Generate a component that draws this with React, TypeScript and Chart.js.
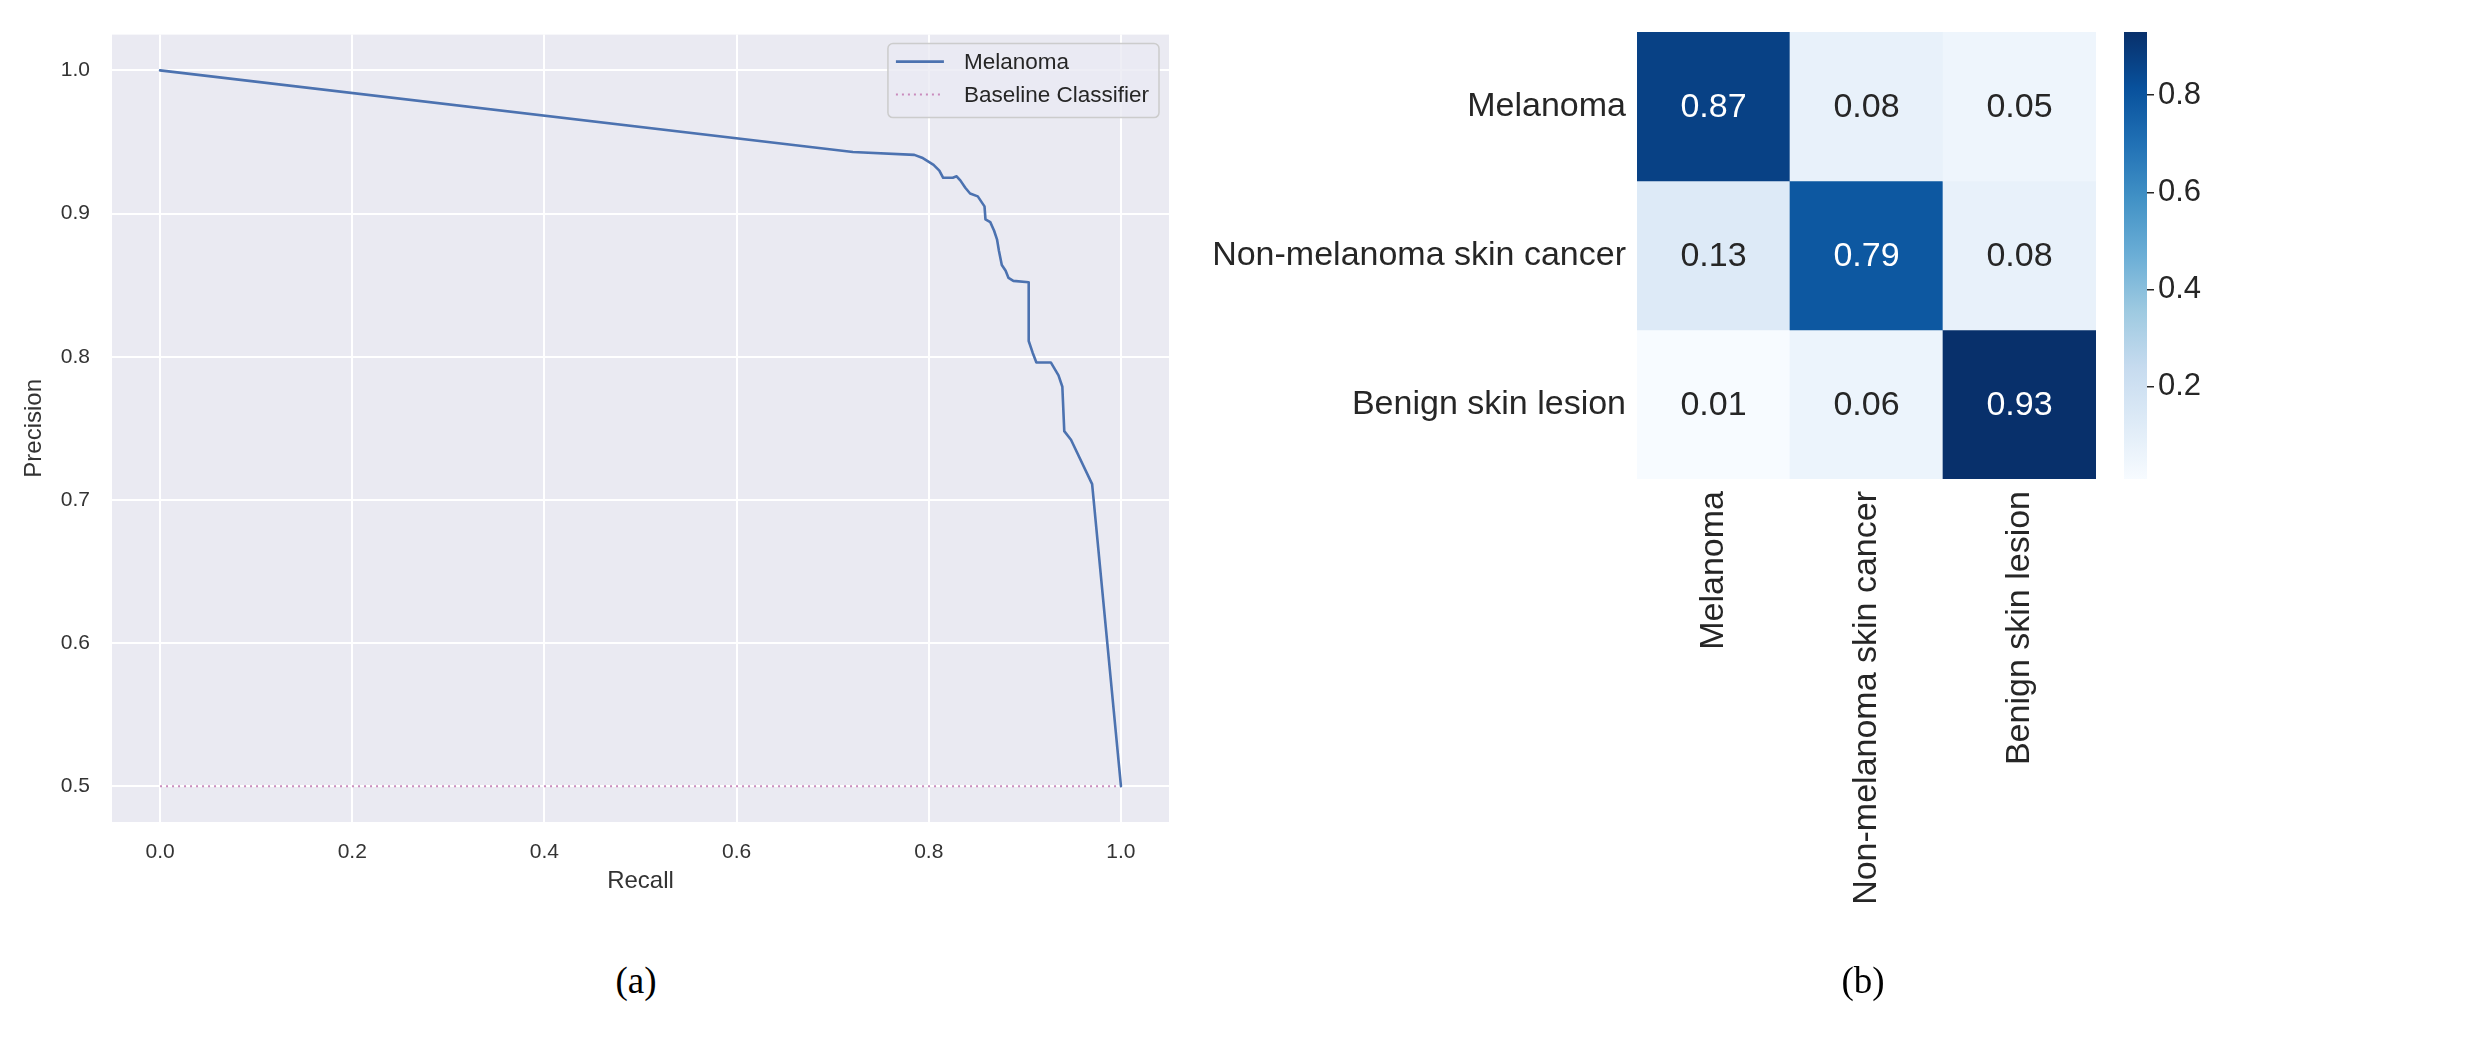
import React, { useEffect, useRef } from "react";
import { Chart, registerables } from "chart.js";

Chart.register(...registerables);

// ---------- (a) Precision-Recall curve data ----------
const recall = [
  0, 0.721, 0.785, 0.793, 0.805, 0.811, 0.815, 0.825, 0.829, 0.833, 0.838, 0.843,
  0.851, 0.855, 0.858, 0.859, 0.864, 0.868, 0.871, 0.873, 0.876, 0.88, 0.883, 0.888,
  0.904, 0.904, 0.908, 0.912, 0.927, 0.935, 0.939, 0.941, 0.948, 0.97, 1.0,
];
const precision = [
  1.0, 0.943, 0.941, 0.939, 0.934, 0.93, 0.925, 0.925, 0.926, 0.923, 0.918, 0.914,
  0.912, 0.908, 0.905, 0.896, 0.894, 0.888, 0.882, 0.874, 0.864, 0.86, 0.855, 0.853,
  0.852, 0.811, 0.803, 0.796, 0.796, 0.787, 0.779, 0.748, 0.742, 0.711, 0.5,
];
const baselineRecall = [0, 1];
const baselinePrecision = [0.5, 0.5];
const seriesLabels = ["Melanoma", "Baseline Classifier"];
const prXTicks = [0, 0.2, 0.4, 0.6, 0.8, 1.0];
const prYTicks = [0.5, 0.6, 0.7, 0.8, 0.9, 1.0];

// ---------- (b) Confusion matrix data ----------
const classLabels = ["Melanoma", "Non-melanoma skin cancer", "Benign skin lesion"];
const rowMelanoma = [0.87, 0.08, 0.05];
const rowNonMelanoma = [0.13, 0.79, 0.08];
const rowBenign = [0.01, 0.06, 0.93];
const confusion = [rowMelanoma, rowNonMelanoma, rowBenign];
const colorbarTicks = [0.2, 0.4, 0.6, 0.8];

const FONT = '"Liberation Sans", Arial, Helvetica, sans-serif';
const TEXT = "#262626";

// matplotlib "Blues" colormap anchors
const BLUES = [
  [247, 251, 255], [222, 235, 247], [198, 219, 239], [158, 202, 225], [107, 174, 214],
  [66, 146, 198], [33, 113, 181], [8, 81, 156], [8, 48, 107],
];
const flat = confusion.flat();
const vmin = Math.min(...flat);
const vmax = Math.max(...flat);

function bluesRGB(t: number): number[] {
  const tt = Math.max(0, Math.min(1, t));
  const p = tt * (BLUES.length - 1);
  const i = Math.min(BLUES.length - 2, Math.floor(p));
  const f = p - i;
  return BLUES[i].map((c, k) => c + (BLUES[i + 1][k] - c) * f);
}
function rgbStr(c: number[]) {
  return `rgb(${Math.round(c[0])},${Math.round(c[1])},${Math.round(c[2])})`;
}
function cellRGB(v: number) {
  return bluesRGB((v - vmin) / (vmax - vmin));
}
function luminance(c: number[]) {
  const lin = c.map((x) => {
    const s = x / 255;
    return s <= 0.03928 ? s / 12.92 : Math.pow((s + 0.055) / 1.055, 2.4);
  });
  return 0.2126 * lin[0] + 0.7152 * lin[1] + 0.0722 * lin[2];
}

const bgPlugin = {
  id: "axesBg",
  beforeDraw(chart: any) {
    const { ctx, chartArea } = chart;
    ctx.save();
    ctx.fillStyle = "#eaeaf2";
    ctx.fillRect(chartArea.left, chartArea.top, chartArea.right - chartArea.left, chartArea.bottom - chartArea.top);
    ctx.restore();
  },
};

const innerLegend = {
  id: "innerLegend",
  afterDraw(chart: any) {
    const { ctx, chartArea } = chart;
    const ds = chart.data.datasets;
    ctx.save();
    ctx.font = `22.5px ${FONT}`;
    const textW = Math.max(...ds.map((d: any) => ctx.measureText(d.label).width));
    const padL = 8, lineLen = 48, gap = 20, padR = 10, padT = 18, rowH = 33, padB = 23;
    const w = padL + lineLen + gap + textW + padR;
    const h = padT + rowH * (ds.length - 1) + padB;
    const right = chartArea.right - 10;
    const top = chartArea.top + 9;
    const left = right - w;
    ctx.beginPath();
    (ctx as any).roundRect(left, top, w, h, 5);
    ctx.fillStyle = "rgba(234,234,242,0.8)";
    ctx.fill();
    ctx.lineWidth = 1.5;
    ctx.strokeStyle = "#cccccc";
    ctx.stroke();
    ds.forEach((d: any, i: number) => {
      const y = top + padT + rowH * i;
      ctx.beginPath();
      ctx.setLineDash(d.borderDash || []);
      ctx.lineWidth = d.borderWidth;
      ctx.strokeStyle = d.borderColor;
      ctx.moveTo(left + padL, y);
      ctx.lineTo(left + padL + lineLen, y);
      ctx.stroke();
      ctx.setLineDash([]);
      ctx.fillStyle = TEXT;
      ctx.textBaseline = "middle";
      ctx.textAlign = "left";
      ctx.fillText(d.label, left + padL + lineLen + gap, y + 1);
    });
    ctx.restore();
  },
};

const annotatePlugin = {
  id: "annotate",
  afterDatasetsDraw(chart: any) {
    const { ctx } = chart;
    ctx.save();
    ctx.font = `34px ${FONT}`;
    ctx.textAlign = "center";
    ctx.textBaseline = "middle";
    chart.data.datasets.forEach((_: any, r: number) => {
      const meta = chart.getDatasetMeta(r);
      meta.data.forEach((bar: any, c: number) => {
        const v = confusion[r][c];
        const { x, y, base } = bar.getProps(["x", "y", "base"], true);
        ctx.fillStyle = luminance(cellRGB(v)) > 0.408 ? TEXT : "#ffffff";
        ctx.fillText(v.toFixed(2), x, (y + base) / 2 + 1);
      });
    });
    ctx.restore();
  },
};

export default function App() {
  const prRef = useRef<HTMLCanvasElement>(null);
  const hmRef = useRef<HTMLCanvasElement>(null);
  const cbRef = useRef<HTMLCanvasElement>(null);

  useEffect(() => {
    Chart.defaults.font.family = FONT;
    Chart.defaults.color = TEXT;

    const pr = new Chart(prRef.current as HTMLCanvasElement, {
      type: "scatter",
      data: {
        datasets: [
          {
            label: seriesLabels[0],
            data: recall.map((x, i) => ({ x, y: precision[i] })),
            showLine: true,
            borderColor: "#4c72b0",
            borderWidth: 2.6,
            pointRadius: 0,
            tension: 0,
            borderCapStyle: "round",
            borderJoinStyle: "round",
          } as any,
          {
            label: seriesLabels[1],
            data: baselineRecall.map((x, i) => ({ x, y: baselinePrecision[i] })),
            showLine: true,
            borderColor: "#c98bbd",
            borderWidth: 2,
            borderDash: [2, 4],
            pointRadius: 0,
          } as any,
        ],
      },
      options: {
        animation: false,
        responsive: false,
        maintainAspectRatio: false,
        layout: { padding: { left: 0, top: 23, right: 31, bottom: 27 } },
        plugins: { legend: { display: false }, tooltip: { enabled: false } },
        scales: {
          x: {
            type: "linear",
            min: -0.05,
            max: 1.05,
            afterBuildTicks: (s: any) => {
              s.ticks = prXTicks.map((value) => ({ value }));
            },
            afterFit: (s: any) => {
              s.height = 101;
            },
            ticks: {
              callback: (v: any) => Number(v).toFixed(1),
              padding: 18,
              font: { size: 21 },
              color: "#333333",
            },
            grid: { color: "#ffffff", lineWidth: 2, drawTicks: false },
            border: { display: false },
            title: {
              display: true,
              text: "Recall",
              font: { size: 24 },
              color: "#333333",
              padding: { top: 0, bottom: 27 },
            },
          },
          y: {
            type: "linear",
            min: 0.475,
            max: 1.025,
            afterBuildTicks: (s: any) => {
              s.ticks = prYTicks.map((value) => ({ value }));
            },
            afterFit: (s: any) => {
              s.width = 112;
            },
            ticks: {
              callback: (v: any) => Number(v).toFixed(1),
              padding: 22,
              font: { size: 21 },
              color: "#333333",
            },
            grid: { color: "#ffffff", lineWidth: 2, drawTicks: false },
            border: { display: false },
            title: {
              display: true,
              text: "Precision",
              font: { size: 24 },
              color: "#333333",
              padding: { top: 20, bottom: 0 },
            },
          },
        },
      } as any,
      plugins: [bgPlugin, innerLegend],
    });

    const hm = new Chart(hmRef.current as HTMLCanvasElement, {
      type: "bar",
      data: {
        labels: classLabels,
        datasets: confusion.map((row, r) => ({
          label: classLabels[r],
          data: row.map(() => [r, r + 1]),
          backgroundColor: row.map((v) => rgbStr(cellRGB(v))),
          borderWidth: 0,
          grouped: false,
          barPercentage: 1,
          categoryPercentage: 1,
        })) as any,
      },
      options: {
        animation: false,
        responsive: false,
        maintainAspectRatio: false,
        layout: { padding: { left: 0, top: 32, right: 14, bottom: 0 } },
        plugins: { legend: { display: false }, tooltip: { enabled: false } },
        scales: {
          x: {
            type: "category",
            grid: { display: false, drawTicks: false },
            border: { display: false },
            ticks: { minRotation: 90, maxRotation: 90, padding: 12, font: { size: 34 }, color: TEXT, autoSkip: false },
            afterFit: (s: any) => {
              s.height = 481;
            },
          },
          y: {
            type: "linear",
            min: 0,
            max: classLabels.length,
            reverse: true,
            grid: { display: false, drawTicks: false },
            border: { display: false },
            afterBuildTicks: (s: any) => {
              s.ticks = classLabels.map((_, i) => ({ value: i + 0.5 }));
            },
            ticks: {
              callback: (_v: any, i: number) => classLabels[i],
              padding: 11,
              font: { size: 34 },
              color: TEXT,
              autoSkip: false,
            },
            afterFit: (s: any) => {
              s.width = 457;
            },
          },
        },
      } as any,
      plugins: [annotatePlugin],
    });

    const cb = new Chart(cbRef.current as HTMLCanvasElement, {
      type: "bar",
      data: {
        labels: [""],
        datasets: [
          {
            data: [[vmin, vmax]],
            backgroundColor: (c: any) => {
              const chart = c.chart;
              if (!chart.chartArea) return "transparent";
              const ys = chart.scales.y;
              const g = chart.ctx.createLinearGradient(0, ys.getPixelForValue(vmin), 0, ys.getPixelForValue(vmax));
              BLUES.forEach((col, i) => g.addColorStop(i / (BLUES.length - 1), rgbStr(col)));
              return g;
            },
            borderWidth: 0,
            barPercentage: 1,
            categoryPercentage: 1,
          } as any,
        ],
      },
      options: {
        animation: false,
        responsive: false,
        maintainAspectRatio: false,
        layout: { padding: { left: 14, top: 32, right: 0, bottom: 0 } },
        plugins: { legend: { display: false }, tooltip: { enabled: false } },
        scales: {
          x: {
            type: "category",
            display: true,
            grid: { display: false, drawTicks: false },
            border: { display: false },
            ticks: { display: false },
            afterFit: (s: any) => {
              s.height = 481;
            },
          },
          y: {
            type: "linear",
            position: "right",
            min: vmin,
            max: vmax,
            afterBuildTicks: (s: any) => {
              s.ticks = colorbarTicks.map((value) => ({ value }));
            },
            ticks: {
              callback: (v: any) => Number(v).toFixed(1),
              padding: 4,
              font: { size: 31 },
              color: TEXT,
            },
            grid: { drawOnChartArea: false, drawTicks: true, tickLength: 7, color: TEXT, lineWidth: 1.5 },
            border: { display: false },
            afterFit: (s: any) => {
              s.width = 63;
            },
          },
        },
      } as any,
    });

    return () => {
      pr.destroy();
      hm.destroy();
      cb.destroy();
    };
  }, []);

  const caption: React.CSSProperties = {
    position: "absolute",
    top: 958,
    width: 100,
    textAlign: "center",
    fontFamily: '"Liberation Serif", "DejaVu Serif", serif',
    fontSize: 37,
    lineHeight: "46px",
    color: "#000",
  };

  return (
    <div style={{ position: "absolute", left: 0, top: 0, width: 2488, height: 1050, background: "#fff", overflow: "hidden" }}>
      <canvas ref={prRef} width={1200} height={950} style={{ position: "absolute", left: 0, top: 0, width: 1200, height: 950 }} />
      <canvas ref={hmRef} width={930} height={960} style={{ position: "absolute", left: 1180, top: 0, width: 930, height: 960 }} />
      <canvas ref={cbRef} width={100} height={960} style={{ position: "absolute", left: 2110, top: 0, width: 100, height: 960 }} />
      <div style={{ ...caption, left: 636 - 50 }}>(a)</div>
      <div style={{ ...caption, left: 1863 - 50 }}>(b)</div>
    </div>
  );
}
